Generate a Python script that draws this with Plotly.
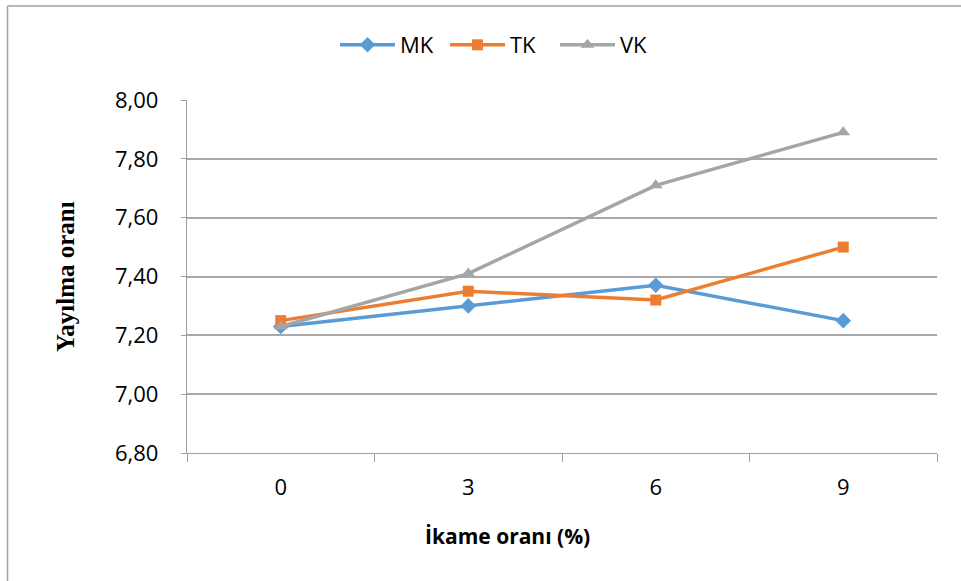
import plotly.graph_objects as go

categories = ["0", "3", "6", "9"]
mk = [7.23, 7.30, 7.37, 7.25]
tk = [7.25, 7.35, 7.32, 7.50]
vk = [7.23, 7.41, 7.71, 7.89]
y_ticks = [6.8, 7.0, 7.2, 7.4, 7.6, 7.8, 8.0]

W, H = 961, 581
L, R, T, B = 187, 937, 100, 453

def px(x):
    return (x - L) / (R - L)

def py(y):
    return (B - y) / (B - T)

fig = go.Figure()
series = [
    ("MK", mk, "#5b9bd5", "diamond", 12),
    ("TK", tk, "#ed7d31", "square", 11),
    ("VK", vk, "#a5a5a5", "triangle-up", 12),
]
for name, vals, col, sym, sz in series:
    fig.add_trace(go.Scatter(
        x=categories, y=vals, name=name, mode="lines+markers",
        line=dict(color=col, width=3.5),
        marker=dict(symbol=sym, size=sz, color=col),
    ))

fig.update_layout(
    width=W, height=H,
    margin=dict(l=L, r=W - R, t=T, b=H - B),
    paper_bgcolor="white", plot_bgcolor="white",
    separators=",.",
    showlegend=True,
    legend=dict(orientation="h", x=px(335), xanchor="left",
                xref="paper", y=py(45), yanchor="middle",
                font=dict(family="Open Sans", size=22, color="black"),
                itemwidth=55, entrywidth=40, entrywidthmode="pixels",
                tracegroupgap=0),
    font=dict(family="Open Sans", size=22, color="black"),
    xaxis=dict(type="category", range=[-0.5, 3.5], tickson="boundaries",
               ticks="outside", ticklen=8, tickcolor="#a0a0a0",
               showline=True, linecolor="#a0a0a0", linewidth=1.3,
               showgrid=False, ticklabelstandoff=14,
               tickfont=dict(family="Open Sans", size=22, color="black")),
    yaxis=dict(range=[6.8, 8.0], tickvals=y_ticks, tickformat=".2f",
               ticks="outside", ticklen=5, tickcolor="#a0a0a0",
               showline=True, linecolor="#a0a0a0", linewidth=1.3,
               showgrid=True, gridcolor="#a8a8a8", gridwidth=1.5,
               zeroline=False, ticklabelstandoff=18,
               tickfont=dict(family="Open Sans", size=22, color="black")),
    annotations=[
        dict(text="<b>Yayılma oranı</b>", x=px(65), y=py(277), xref="paper", yref="paper",
             textangle=-90, showarrow=False,
             font=dict(family="Liberation Serif", size=25, color="black"),
             xanchor="center", yanchor="middle"),
        dict(text="<b>İkame oranı (%)</b>", x=px(507), y=py(536), xref="paper", yref="paper",
             showarrow=False,
             font=dict(family="Open Sans", size=21, color="black"),
             xanchor="center", yanchor="middle"),
    ],
    shapes=[
        dict(type="line", xref="paper", yref="paper", x0=px(7.5), x1=px(7.5),
             y0=py(6), y1=py(600), line=dict(color="#a0a0a0", width=1.5)),
        dict(type="line", xref="paper", yref="paper", x0=px(7.5), x1=px(1000),
             y0=py(6), y1=py(6), line=dict(color="#a0a0a0", width=1.5)),
    ],
)

fig.write_html("out.html")
